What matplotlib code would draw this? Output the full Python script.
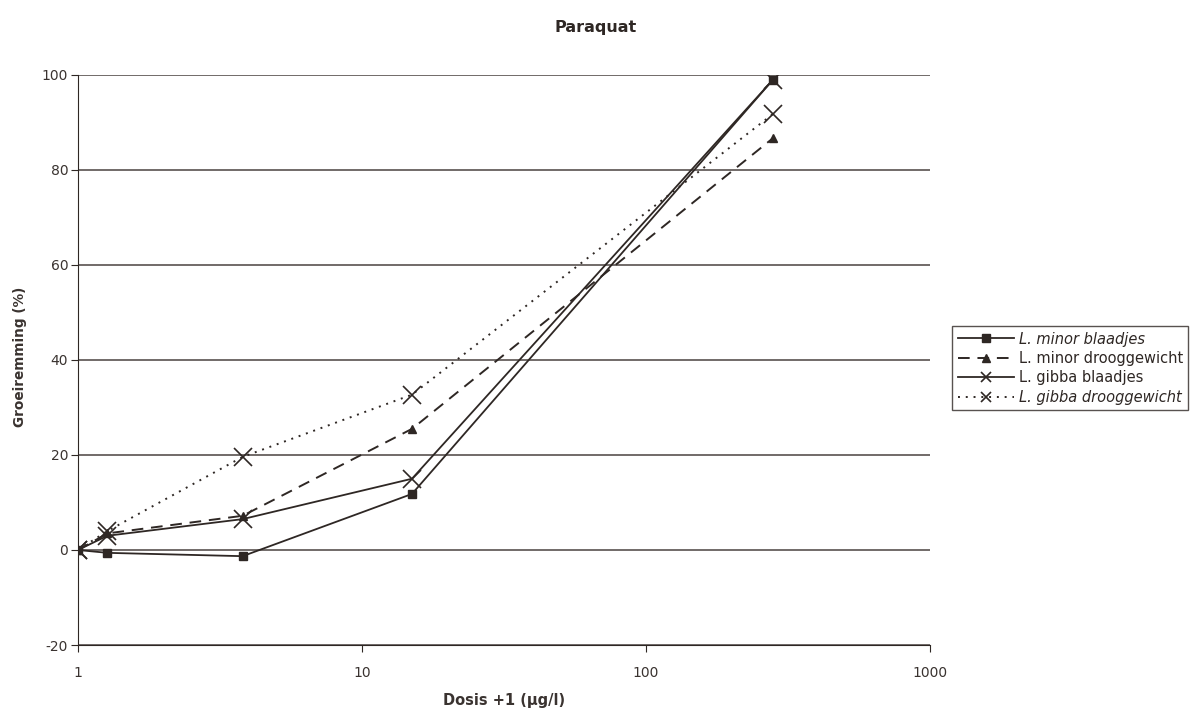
import matplotlib
matplotlib.use("Agg")
import matplotlib.pyplot as plt
from matplotlib.lines import Line2D
from matplotlib.ticker import FixedLocator, FixedFormatter

plt.rcParams['font.family'] = ['DejaVu Sans']
plt.rcParams['axes.unicode_minus'] = False

# Dose + 1 (µg/l)
dose = [1, 1.27, 3.8, 15, 280]

minor_blaadjes = [0, -0.6, -1.3, 11.8, 99]
minor_droog = [0, 3.5, 7.2, 25.5, 86.7]
gibba_blaadjes = [0, 3.0, 6.5, 15.0, 99]
gibba_droog = [0, 4.0, 19.6, 32.7, 91.8]

labels = ["L. minor blaadjes", "L. minor drooggewicht",
          "L. gibba blaadjes", "L. gibba drooggewicht"]

ink = "#2e2724"
txt = "#3a3330"

fig = plt.figure(figsize=(11.92, 7.12), dpi=100)
ax = fig.add_axes([0.0654, 0.0941, 0.7148, 0.8006])

styles = [
    dict(ls='-', lw=1.3, marker='s', ms=6, mew=1.0),
    dict(ls=(0, (6, 4)), lw=1.4, marker='^', ms=6, mew=1.0),
    dict(ls='-', lw=1.3, marker='x', ms=13, mew=1.2),
    dict(ls=(0, (1, 3)), lw=1.4, marker='x', ms=13, mew=1.2),
]
series = [minor_blaadjes, minor_droog, gibba_blaadjes, gibba_droog]
for vals, st, lab in zip(series, styles, labels):
    ax.plot(dose, vals, color=ink, label=lab, **st)

ax.set_xscale('log')
ax.set_xlim(1, 1000)
ax.set_ylim(-20, 100)
ax.xaxis.set_major_locator(FixedLocator([1, 10, 100, 1000]))
ax.xaxis.set_major_formatter(FixedFormatter(['1', '10', '100', '1000']))
ax.xaxis.set_minor_locator(FixedLocator([]))
ax.set_yticks(range(-20, 101, 20))

ax.grid(axis='y', color='#4a4340', lw=1.1)
ax.set_axisbelow(True)
for s in ['top', 'right']:
    ax.spines[s].set_visible(False)
ax.spines['left'].set_color(ink)
ax.spines['bottom'].set_color(ink)
ax.tick_params(colors=ink, labelsize=10, length=5, direction='out')
ax.tick_params(axis='x', pad=10)
ax.tick_params(axis='y', pad=2)
for lab in ax.get_xticklabels() + ax.get_yticklabels():
    lab.set_color(txt)

ax.set_xlabel("Dosis +1 (µg/l)", fontsize=10.5, fontweight='bold', color=txt)
ax.xaxis.label.set_va('center')
ax.xaxis.set_label_coords(0.5, -55 / 570)
ax.set_ylabel("Groeiremming (%)", fontsize=9.8, fontweight='bold', color=txt)
ax.yaxis.label.set_va('center')
ax.yaxis.set_label_coords(-58 / 852, 288 / 570)

fig.text(0.5, 0.961, "Paraquat", ha='center', va='center', fontsize=11.5,
         fontweight='bold', color=ink)

# Legend keys use smaller cross markers than the plotted points
legend_ms = [6, 6, 7, 7]
proxies = []
for st, ms in zip(styles, legend_ms):
    kw = dict(st)
    kw['ms'] = ms
    proxies.append(Line2D([], [], color=ink, **kw))

leg = fig.legend(proxies, labels, loc='center left',
                 bbox_to_anchor=(0.799, 0.483),
                 fontsize=10.5, frameon=True, fancybox=False, shadow=False,
                 handlelength=3.9, handletextpad=0.3, borderpad=0.35,
                 labelspacing=0.3, borderaxespad=0)
leg.get_frame().set_edgecolor(ink)
leg.get_frame().set_linewidth(1.0)
for t in leg.get_texts():
    t.set_color(ink)
for i in (0, 3):
    leg.get_texts()[i].set_style('italic')

fig.savefig("out.png", dpi=100, facecolor='white')
